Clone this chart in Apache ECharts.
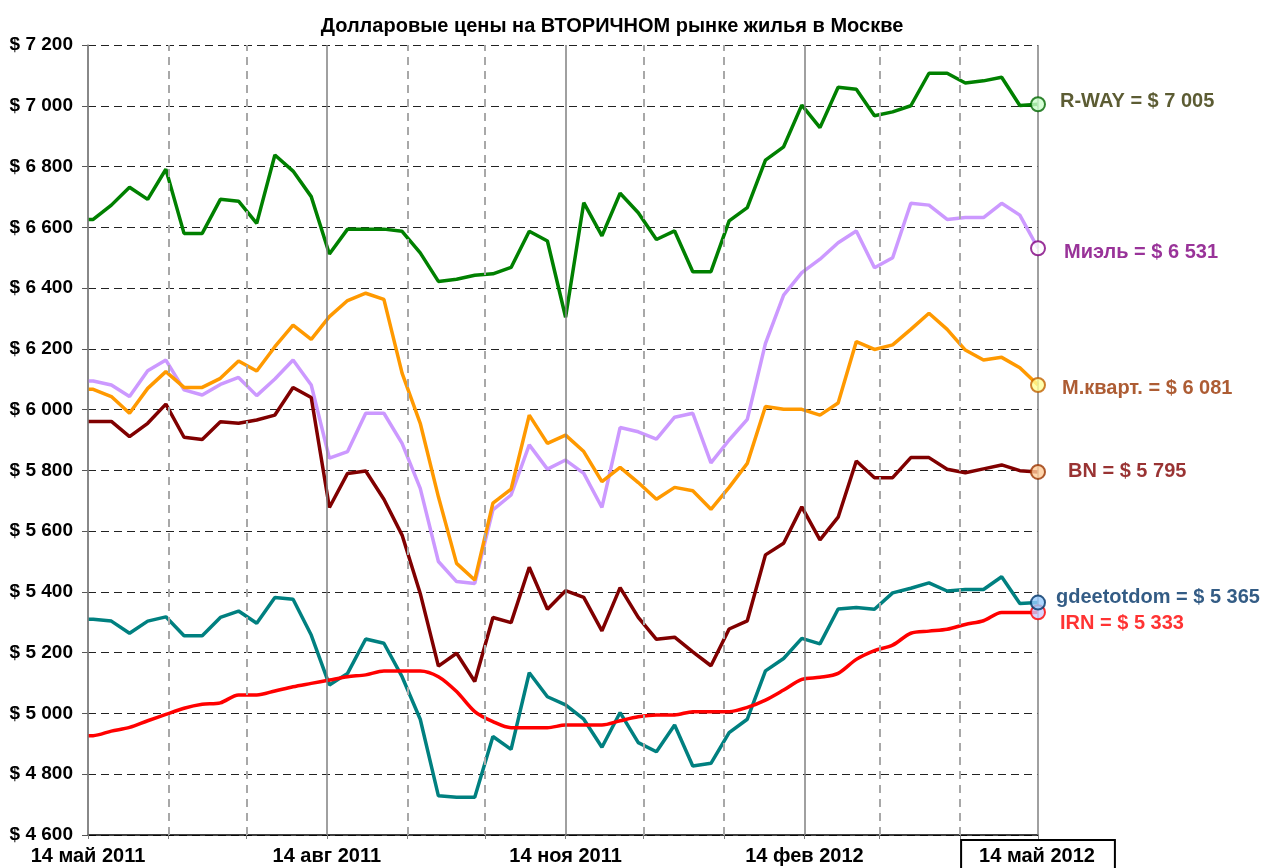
<!DOCTYPE html>
<html lang="ru">
<head>
<meta charset="UTF-8">
<title>Долларовые цены на вторичном рынке жилья в Москве</title>
<script src="https://cdn.jsdelivr.net/npm/echarts@6/dist/echarts.min.js"></script>
<style>
  html, body { margin: 0; padding: 0; background: #fff; }
  #chart { width: 1268px; height: 868px; }
</style>
</head>
<body>
<div id="chart"></div>
<script>
// даты замеров (понедельники) и значения, $ за кв.м
var dates = ['2011-05-14','2011-05-16','2011-05-23','2011-05-30','2011-06-06','2011-06-13','2011-06-20','2011-06-27',
  '2011-07-04','2011-07-11','2011-07-18','2011-07-25','2011-08-01','2011-08-08','2011-08-15','2011-08-22','2011-08-29',
  '2011-09-05','2011-09-12','2011-09-19','2011-09-26','2011-10-03','2011-10-10','2011-10-17','2011-10-24','2011-10-31',
  '2011-11-07','2011-11-14','2011-11-21','2011-11-28','2011-12-05','2011-12-12','2011-12-19','2011-12-26',
  '2012-01-02','2012-01-09','2012-01-16','2012-01-23','2012-01-30','2012-02-06','2012-02-13','2012-02-20','2012-02-27',
  '2012-03-05','2012-03-12','2012-03-19','2012-03-26','2012-04-02','2012-04-09','2012-04-16','2012-04-23','2012-04-30',
  '2012-05-07','2012-05-14'];

var rway = [6626,6626,6673,6732,6692,6791,6580,6580,6692,6686,6613,6838,6785,6701,
  6512,6594,6594,6594,6587,6516,6422,6429,6442,6447,6468,6587,6555,6304,6681,6572,6712,6648,
  6560,6588,6454,6454,6621,6665,6821,6865,7002,6928,7061,7054,6967,6980,7000,7107,7107,7075,
  7082,7094,7001,7005];
var miel = [6094,6094,6081,6043,6128,6163,6065,6048,6083,6106,6046,6101,6163,6081,
  5840,5862,5988,5988,5889,5741,5500,5434,5428,5670,5719,5884,5804,5834,5790,5678,5941,5927,
  5903,5975,5988,5825,5900,5968,6218,6377,6451,6495,6549,6588,6467,6500,6679,6673,6626,6632,
  6632,6679,6640,6531];
var mkvart = [6067,6067,6043,5988,6070,6125,6073,6073,6103,6160,6127,6207,6278,6231,
  6306,6359,6383,6363,6120,5955,5713,5494,5439,5692,5738,5982,5889,5916,5862,5763,5810,5760,
  5705,5744,5733,5672,5744,5823,6010,6001,6001,5982,6022,6224,6198,6213,6264,6317,6264,6196,
  6163,6172,6138,6081];
var bn = [5961,5961,5961,5911,5955,6018,5909,5902,5960,5955,5966,5982,6073,6040,
  5678,5790,5798,5705,5587,5395,5156,5198,5105,5316,5299,5481,5343,5404,5382,5272,5414,5316,
  5244,5251,5203,5157,5278,5305,5522,5560,5680,5571,5646,5831,5776,5776,5842,5842,5804,5792,
  5805,5818,5799,5795];
var gdeetotdom = [5310,5310,5304,5264,5304,5318,5256,5256,5316,5337,5297,5382,5376,5258,
  5094,5132,5245,5231,5121,4981,4729,4724,4724,4924,4882,5134,5055,5028,4981,4889,5003,4904,
  4874,4962,4827,4836,4937,4981,5140,5181,5247,5229,5344,5349,5343,5397,5412,5430,5403,5408,
  5408,5450,5362,5365];
var irn = [4927,4927,4942,4954,4976,4997,5017,5030,5035,5061,5061,5074,5088,5099,
  5110,5121,5127,5140,5140,5140,5121,5072,5006,4973,4953,4953,4953,4962,4962,4962,4976,4989,
  4995,4995,5006,5006,5006,5020,5044,5077,5112,5119,5132,5178,5207,5225,5264,5271,5277,5293,
  5305,5332,5332,5333];

var monthDates = ['2011-06-14','2011-07-14','2011-09-14','2011-10-14','2011-12-14','2012-01-14','2012-03-14','2012-04-14'];
var quarterDates = ['2011-05-14','2011-08-14','2011-11-14','2012-02-14','2012-05-14'];
var quarterLabels = ['14 май 2011','14 авг 2011','14 ноя 2011','14 фев 2012','14 май 2012'];

var FONT = "'Liberation Sans', Arial, sans-serif";
var start = Date.parse(dates[0]);
function day(d) { return Math.round((Date.parse(d) - start) / 86400000); }
function money(v) { return '$ ' + String(v).replace(/\B(?=(\d{3})+(?!\d))/g, ' '); }
function pts(arr) { return arr.map(function (v, i) { return [day(dates[i]), v]; }); }

var lastDay = day(dates[dates.length - 1]);

var chart = echarts.init(document.getElementById('chart'));

// линии сетки по месяцам и кварталам
var vLines = monthDates.map(function (d) {
  return { xAxis: day(d), lineStyle: { color: '#a8a8a8', width: 2, type: [8, 6] } };
}).concat(quarterDates.map(function (d) {
  return { xAxis: day(d), lineStyle: { color: '#808080', width: 1.5, type: 'solid' } };
}));

function line(name, arr, color, extra) {
  var s = {
    name: name, type: 'line', data: pts(arr), symbol: 'none',
    lineStyle: { color: color, width: 3.5 }, z: 3, silent: true
  };
  return Object.assign(s, extra || {});
}

// конечные точки с подписями
var ends = [
  { name: 'R-WAY', v: rway, fill: '#ccffcc', border: '#006600', text: '#333300', dist: 14, dy: -3 },
  { name: 'Миэль', v: miel, fill: '#ffffff', border: '#800080', text: '#800080', dist: 18, dy: 4 },
  { name: 'М.кварт.', v: mkvart, fill: '#ffff99', border: '#c06000', text: '#993300', dist: 16, dy: 3 },
  { name: 'BN', v: bn, fill: '#ffcc99', border: '#993300', text: '#800000', dist: 22, dy: 0 },
  { name: 'IRN', v: irn, fill: '#ccccff', border: '#ff0000', text: '#ff0000', dist: 14, dy: 11 },
  { name: 'gdeetotdom', v: gdeetotdom, fill: '#99ccff', border: '#003366', text: '#003366', dist: 10, dy: -5 }
];
var endData = ends.map(function (e) {
  var last = e.v[e.v.length - 1];
  return {
    value: [lastDay, last],
    itemStyle: { color: e.fill, borderColor: e.border, borderWidth: 2 },
    label: {
      show: true, position: 'right', distance: e.dist, offset: [0, e.dy],
      formatter: e.name + ' = ' + money(last),
      color: e.text, fontFamily: FONT, fontWeight: 'bold', fontSize: 20
    }
  };
});

var labelDays = quarterDates.map(day);

var option = {
  animation: false,
  title: {
    text: 'Долларовые цены на ВТОРИЧНОМ рынке жилья в Москве',
    left: 607, top: 11, textAlign: 'center',
    textStyle: { fontFamily: FONT, fontWeight: 'bold', fontSize: 20, color: '#000' }
  },
  grid: { left: 88, right: 230, top: 45, bottom: 33, containLabel: false, outerBoundsMode: 'none' },
  xAxis: {
    type: 'value', min: 0, max: lastDay,
    axisLine: { lineStyle: { color: '#000', width: 1.5 } },
    axisTick: { show: true, length: 4, customValues: monthDates.concat(quarterDates).map(day), lineStyle: { color: '#808080' } },
    splitLine: { show: false },
    axisLabel: {
      customValues: labelDays, margin: 5, showMinLabel: true, showMaxLabel: true,
      formatter: function (v) {
        var i = labelDays.indexOf(v);
        var t = i >= 0 ? quarterLabels[i] : '';
        return i === labelDays.length - 1 ? '{b|' + t + '}' : '{n|' + t + '}';
      },
      rich: {
        n: { fontFamily: FONT, fontWeight: 'bold', fontSize: 20, color: '#000', padding: [6, 18, 8, 18] },
        b: { fontFamily: FONT, fontWeight: 'bold', fontSize: 20, color: '#000', padding: [6, 20, 8, 18],
             borderColor: '#000', borderWidth: 2 }
      }
    }
  },
  yAxis: {
    type: 'value', min: 4600, max: 7200, interval: 200,
    axisLine: { show: true, lineStyle: { color: '#808080', width: 1.5 } },
    axisTick: { show: true, length: 6, lineStyle: { color: '#555' } },
    splitLine: { show: true, lineStyle: { color: '#222', width: 1, type: [8, 5] } },
    axisLabel: {
      margin: 15, formatter: money,
      fontFamily: FONT, fontWeight: 'bold', fontSize: 19, color: '#000'
    }
  },
  series: [
    { type: 'line', data: [], silent: true, z: 1,
      markLine: { silent: true, symbol: 'none', label: { show: false }, animation: false, data: vLines } },
    line('Миэль', miel, '#cc99ff'),
    line('М.кварт.', mkvart, '#ff9900'),
    line('R-WAY', rway, '#008000'),
    line('BN', bn, '#800000'),
    line('gdeetotdom', gdeetotdom, '#008080'),
    line('IRN', irn, '#ff0000', { smooth: 0.3 }),
    { type: 'scatter', symbol: 'circle', symbolSize: 14, data: endData, z: 10, silent: true }
  ]
};

chart.setOption(option);
</script>
</body>
</html>
